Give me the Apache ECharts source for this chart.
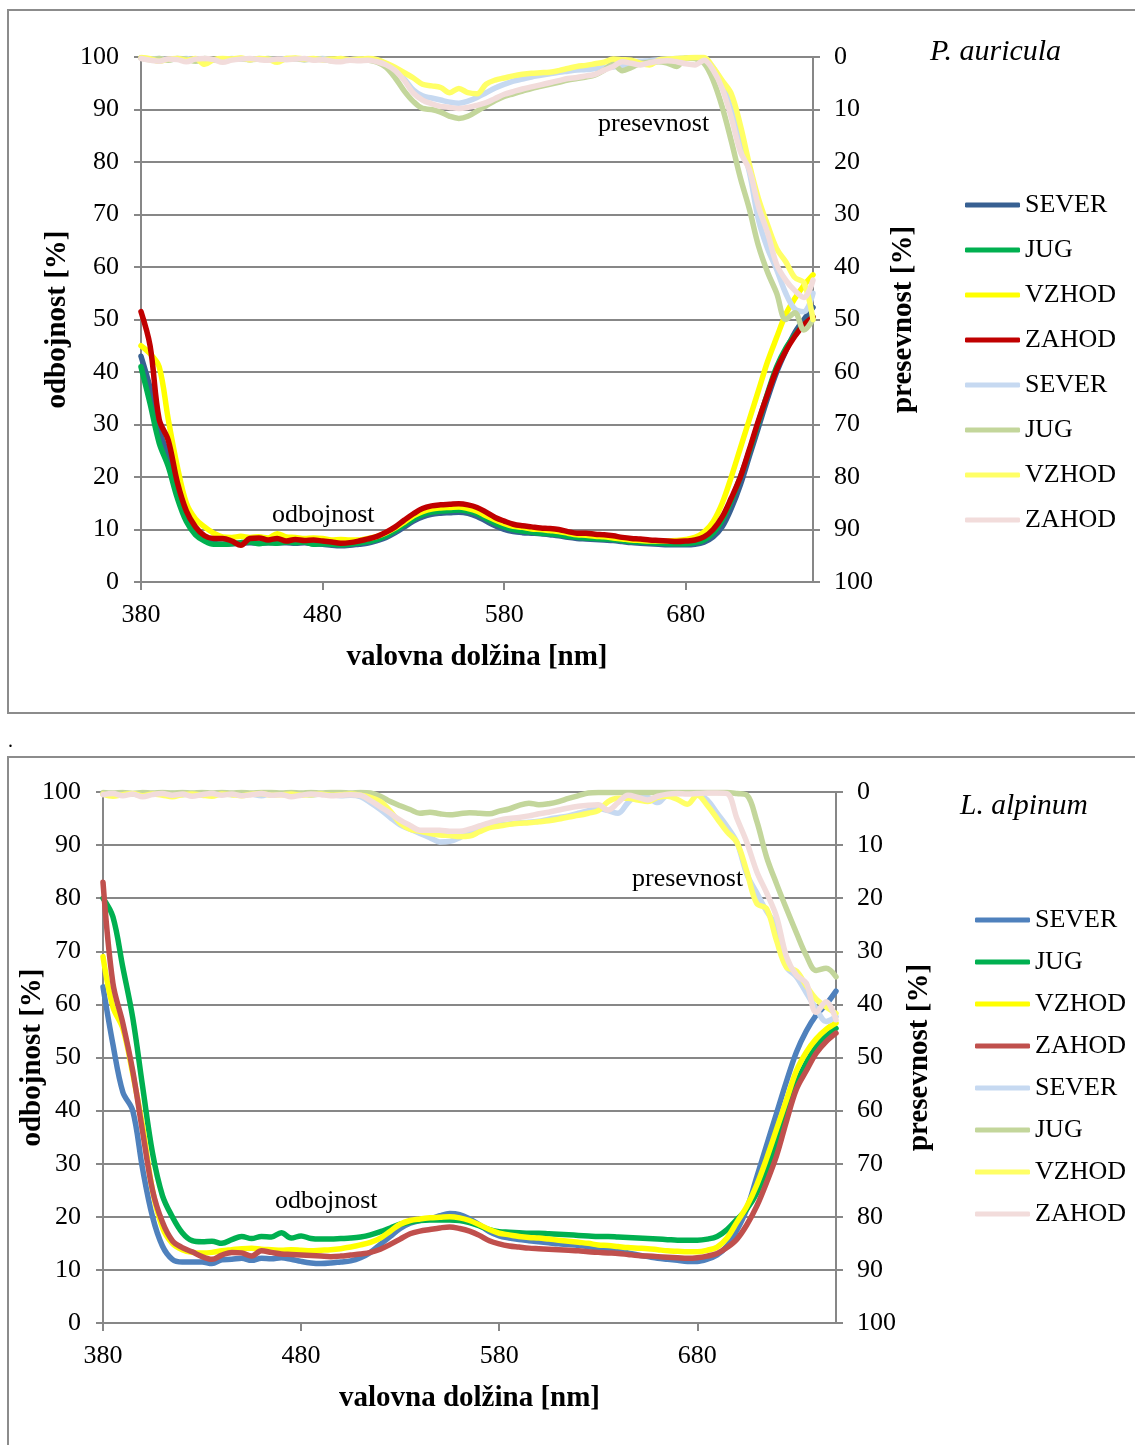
<!DOCTYPE html>
<html>
<head>
<meta charset="utf-8">
<script src="https://cdn.jsdelivr.net/npm/echarts@6/dist/echarts.min.js"></script>
<style>
html,body{margin:0;padding:0;background:#fff;}
#c{position:absolute;left:0;top:0;width:1135px;height:1445px;}
</style>
</head>
<body>
<div id="c"></div>
<script>
// wavelength (nm)
const WL = [380,385,390,395,400,405,410,415,420,425,
430,435,440,445,450,455,460,465,470,475,
480,485,490,495,500,505,510,515,520,525,
530,535,540,545,550,555,560,565,570,575,
580,585,590,595,600,605,610,615,620,625,
630,635,640,645,650,655,660,665,670,675,
680,685,690,695,700,705,710,715,720,725,
730,735,740,745,750];
const X_TICKS = [380,480,580,680];
const SERIES_LABELS = ['SEVER','JUG','VZHOD','ZAHOD'];

// ---- P. auricula: odbojnost [%] (left axis)
const P_SEVER = [43,37,29,24,18,13,9.8,8.2,7.4,7.2,
7.3,7.4,7.5,7.4,7.5,7.5,7.5,7.4,7.5,7.3,
7.2,7.0,6.9,7.0,7.2,7.4,7.9,8.5,9.4,10.5,
11.6,12.4,12.9,13.1,13.2,13.3,13.1,12.5,11.6,10.7,
10.0,9.6,9.4,9.3,9.2,9.0,8.8,8.5,8.3,8.2,
8.1,8.0,7.9,7.7,7.5,7.4,7.3,7.2,7.1,7.1,
7.1,7.2,7.6,8.6,10.5,14.0,18.5,24.0,29.5,35.0,
40.0,44.0,47.5,50.0,52.3];
const P_JUG = [41,34,26.5,22,16,11.5,9,7.8,7.2,7.2,
7.3,7.5,7.6,7.3,7.5,7.4,7.6,7.5,7.6,7.2,
7.3,7.2,7.1,7.2,7.4,7.7,8.1,8.8,9.8,10.9,
12.0,12.8,13.3,13.5,13.6,13.7,13.5,13.0,12.1,11.2,
10.5,10.0,9.7,9.5,9.3,9.2,9.0,8.7,8.5,8.4,
8.3,8.2,8.1,7.9,7.7,7.6,7.5,7.4,7.3,7.3,
7.3,7.5,8.0,9.3,11.8,15.5,20.0,25.0,30.5,36.0,
41.0,44.5,47.0,49.0,50.5];
const P_VZHOD = [45,43.5,41,31,22,15,12.0,10.5,9.3,8.6,
8.5,8.7,8.5,8.6,8.4,9.2,8.6,8.5,8.3,8.4,
8.3,8.0,8.1,8.0,8.0,8.3,8.7,9.4,10.3,11.4,
12.6,13.4,13.9,14.1,14.2,14.3,14.0,13.5,12.6,11.8,
11.1,10.6,10.4,10.1,10.0,9.8,9.6,9.3,9.0,8.9,
8.7,8.6,8.4,8.2,8.0,7.9,7.8,7.8,7.8,7.9,
8.1,8.5,9.5,11.5,15.0,20.0,25.5,31.0,36.5,42.0,
46.6,51.0,54.0,56.5,58.5];
const P_ZAHOD = [51.5,45,31,27,19,13.5,10.5,8.8,8.3,8.3,
7.8,7.0,8.3,8.4,8.0,8.3,7.8,8.1,7.9,8.0,
7.8,7.6,7.4,7.5,7.8,8.2,8.7,9.5,10.5,11.8,
13.0,14.0,14.5,14.7,14.8,14.9,14.7,14.2,13.3,12.3,
11.6,11.0,10.7,10.5,10.3,10.2,10.0,9.6,9.3,9.3,
9.1,9.0,8.8,8.5,8.3,8.2,8.0,7.9,7.8,7.7,
7.8,8.0,8.6,10.0,12.4,16.0,20.0,25.3,30.8,35.8,
40.5,44.0,46.8,49.0,50.5];

// ---- P. auricula: presevnost [%] (right axis, inverted)
const PT_SEVER = [0.2,0.4,0.3,0.5,0.4,0.3,0.5,0.4,0.6,0.5,
0.3,0.4,0.5,0.3,0.4,0.5,0.3,0.4,0.5,0.4,
0.3,0.5,0.6,0.5,0.4,0.5,0.6,1.3,2.5,4.2,
6.3,7.4,7.8,8.2,8.6,8.8,8.4,7.7,6.8,5.9,
5.2,4.6,4.2,3.8,3.5,3.2,2.9,2.7,2.5,2.4,
2.2,2.0,1.9,1.6,1.0,0.8,0.7,0.5,0.4,0.3,
0.2,0.2,0.3,2.0,5.0,10.0,15.5,22.0,31.0,36.5,
40.5,45.0,48.0,48.5,45.0];
const PT_JUG = [0.2,0.5,0.3,0.6,0.3,0.4,0.8,0.3,0.5,0.7,
0.4,0.3,0.5,0.4,0.3,0.6,0.4,0.3,0.5,0.4,
0.5,0.7,0.5,0.6,0.5,0.6,1.0,2.0,4.0,6.5,
8.5,9.8,10.0,10.5,11.3,11.7,11.3,10.3,9.3,8.3,
7.5,7.0,6.5,6.0,5.6,5.2,4.8,4.4,4.1,3.8,
3.4,2.5,1.3,2.6,2.0,1.2,1.0,0.9,1.2,1.8,
0.2,0.3,1.2,4.4,9.5,16.0,23.0,29.0,36.0,41.0,
45.0,50.0,48.7,52.0,50.0];
const PT_VZHOD = [0.1,0.3,0.8,0.4,0.3,0.6,0.3,1.4,0.5,0.3,
0.4,0.2,0.5,0.3,0.4,1.0,0.3,0.2,0.4,0.3,
0.5,0.4,0.3,0.5,0.4,0.3,0.5,1.2,2.0,3.0,
4.0,5.2,5.5,5.8,6.8,6.0,6.8,7.0,5.2,4.4,
4.0,3.6,3.3,3.1,3.0,2.9,2.6,2.2,1.8,1.6,
1.3,1.0,0.4,0.5,0.6,1.2,1.5,0.6,0.4,0.3,
0.2,0.1,0.1,2.0,4.5,7.0,13.0,20.5,27.0,32.0,
36.5,39.0,42.0,43.0,50.0];
const PT_ZAHOD = [0.3,0.6,0.8,0.4,0.5,0.9,0.4,0.3,0.5,1.0,
0.6,0.4,0.3,0.5,0.6,0.4,0.5,0.4,0.3,0.6,
0.5,0.8,0.9,0.6,0.7,0.6,0.9,1.5,2.6,4.5,
6.9,8.2,8.9,9.4,9.6,9.8,9.6,9.2,8.7,7.9,
7.1,6.6,6.1,5.7,5.3,4.9,4.5,4.1,3.9,3.6,
3.3,2.5,1.8,0.9,1.2,1.5,1.1,0.8,0.7,0.9,
1.3,1.5,0.6,2.5,6.0,11.5,18.0,21.5,28.5,33.5,
39.5,42.5,44.5,45.8,42.5];

// ---- L. alpinum: odbojnost [%]
const L_SEVER = [63.3,52.5,43.5,40,29,20,14.5,12,11.5,11.5,
11.5,11.2,11.9,12.0,12.2,11.8,12.2,12.1,12.3,12.0,
11.6,11.3,11.2,11.3,11.5,11.7,12.3,13.3,14.8,16.3,
17.8,18.8,19.3,19.6,20.2,20.6,20.4,19.6,18.5,17.2,
16.4,16.0,15.7,15.5,15.3,15.1,14.9,14.8,14.6,14.4,
14.1,13.8,13.5,13.2,12.8,12.5,12.2,12.0,11.8,11.6,
11.6,12.0,12.8,14.5,17.5,21.5,27.5,33.5,39.5,45.5,
51.0,55.0,58.0,60.0,62.5];
const L_JUG = [80,76.5,67,57.5,44.5,32,24,20,17,15.5,
15.3,15.4,15.0,15.7,16.3,15.9,16.3,16.2,17.0,16.0,
16.4,15.9,15.8,15.8,15.9,16.0,16.2,16.6,17.2,17.9,
18.6,19.0,19.3,19.4,19.4,19.4,19.3,18.9,18.3,17.6,
17.2,17.1,17.0,16.9,16.9,16.8,16.7,16.6,16.5,16.4,
16.3,16.3,16.2,16.1,16.0,15.9,15.8,15.7,15.6,15.6,
15.6,15.8,16.3,17.6,19.5,21.5,24.5,29.0,34.0,39.5,
45.0,49.0,52.0,54.0,55.5];
const L_VZHOD = [69,59.5,55.5,47,37,25,18,15,13.8,13.3,
13.2,13.3,13.6,13.8,14.0,14.1,13.9,13.8,13.7,13.8,
13.7,13.6,13.7,13.8,14.0,14.3,14.7,15.2,16.0,17.3,
18.6,19.3,19.6,19.8,19.9,20.0,19.8,19.3,18.5,17.6,
16.9,16.6,16.3,16.1,16.0,15.8,15.6,15.4,15.2,15.0,
14.7,14.6,14.4,14.2,14.1,14.0,13.8,13.6,13.5,13.4,
13.4,13.7,14.3,16.0,19.0,22.0,26.0,31.0,36.5,42.0,
47.5,51.0,53.5,55.3,56.5];
const L_ZAHOD = [83,64,56.5,47.5,36,25,19,15.5,14.2,13.4,
12.5,12.0,12.8,13.3,13.2,12.6,13.6,13.3,13.0,12.9,
12.8,12.7,12.6,12.5,12.6,12.8,13.0,13.3,13.9,14.8,
15.8,16.8,17.3,17.6,17.9,18.1,17.8,17.3,16.5,15.5,
14.9,14.5,14.3,14.1,14.0,13.9,13.8,13.7,13.6,13.4,
13.3,13.2,13.1,12.9,12.7,12.6,12.5,12.4,12.3,12.2,
12.3,12.6,13.1,14.2,15.8,18.5,22.0,26.5,31.5,38.0,
44.0,47.5,50.8,53.0,54.6];

// ---- L. alpinum: presevnost [%]
const LT_SEVER = [0.3,0.5,0.2,0.4,0.6,0.3,0.4,0.2,0.5,0.3,
0.4,0.6,0.3,0.5,0.2,0.4,0.7,0.3,0.4,0.5,
0.3,0.6,0.4,0.5,0.7,0.6,0.9,2.0,3.3,4.8,
6.2,7.0,7.8,8.6,9.4,9.3,8.6,7.5,6.9,6.5,
6.2,6.0,5.8,5.7,5.5,5.1,4.8,4.5,4.0,3.5,
3.1,3.5,4.0,2.0,0.6,1.0,2.0,0.5,0.3,0.2,
0.3,1.5,4.0,6.5,9.5,15.5,19.0,22.5,25.4,32.9,
34.8,37.8,40.8,43.2,42.3];
const LT_JUG = [0.1,0.2,0.1,0.3,0.1,0.2,0.1,0.2,0.1,0.2,
0.1,0.2,0.1,0.2,0.1,0.2,0.1,0.1,0.2,0.1,
0.2,0.1,0.2,0.1,0.1,0.2,0.1,0.2,0.8,1.8,
2.6,3.3,4.0,3.8,4.1,4.3,4.1,3.9,4.0,4.1,
3.6,3.2,2.5,2.1,2.4,2.2,1.8,1.2,0.7,0.2,
0.1,0.1,0.1,0.1,0.1,0.1,0.1,0.1,0.1,0.1,
0.1,0.1,0.1,0.1,0.3,0.6,5.5,12.3,17.3,22.0,
26.5,30.8,33.6,33.2,34.8];
const LT_VZHOD = [0.4,0.8,0.5,0.3,0.7,0.4,0.6,0.9,0.5,0.4,
0.6,0.8,0.4,0.5,0.7,0.4,0.3,0.6,0.5,0.4,
0.6,0.5,0.4,0.6,0.5,0.4,0.6,1.0,1.8,3.6,
5.9,7.0,7.4,7.8,8.1,8.2,8.4,8.3,7.5,6.7,
6.4,6.1,5.9,5.8,5.6,5.4,5.1,4.7,4.4,4.0,
3.5,1.8,1.2,1.2,1.5,1.8,1.0,0.8,1.4,2.3,
0.6,2.5,5.0,7.5,9.5,15.0,21.0,22.0,28.0,33.0,
33.7,36.5,39.0,40.5,41.7];
const LT_ZAHOD = [0.5,0.3,0.7,0.4,0.9,0.5,0.3,0.6,0.4,0.8,
0.5,0.3,0.6,0.4,0.7,0.5,0.3,0.6,0.5,0.9,
0.6,0.4,0.5,0.7,0.6,0.5,0.6,1.6,2.8,4.0,
5.3,6.3,7.2,7.2,7.2,7.4,7.4,7.0,6.4,5.8,
5.3,5.0,4.8,4.5,4.1,3.8,3.4,3.0,2.7,2.5,
2.4,3.4,2.0,0.6,1.0,1.5,0.8,0.4,0.3,0.4,
0.3,0.2,0.2,0.3,5.0,9.5,15.0,19.0,23.5,31.0,
34.5,36.0,41.5,39.5,42.9];

const FONT = '"Liberation Serif", "Times New Roman", serif';
const GRID_C = '#878787';
const P_COLORS = ['#376092','#00B050','#FFFF00','#C00000'];
const L_COLORS = ['#4F81BD','#00B050','#FFFF00','#C0504D'];
const T_COLORS = ['#C6D9F1','#C3D69B','#FFFF66','#F2DCDB'];

function mkSeries(key, idx, gridIdx, yIdx, arr, color) {
  return {
    name: key + '|' + SERIES_LABELS[idx],
    type: 'line',
    xAxisIndex: gridIdx,
    yAxisIndex: yIdx,
    data: WL.map((w, i) => [w, arr[i]]),
    symbol: 'none',
    showSymbol: false,
    smooth: 0.35,
    lineStyle: {color: color, width: 5.5, cap: 'round', join: 'round'},
    itemStyle: {color: color},
    emphasis: {disabled: true},
    z: 2
  };
}

const series = [];
[P_SEVER,P_JUG,P_VZHOD,P_ZAHOD].forEach((a,i)=>series.push(mkSeries('Po'+i, i, 0, 0, a, P_COLORS[i])));
[PT_SEVER,PT_JUG,PT_VZHOD,PT_ZAHOD].forEach((a,i)=>series.push(mkSeries('Pt'+i, i, 0, 1, a, T_COLORS[i])));
[L_SEVER,L_JUG,L_VZHOD,L_ZAHOD].forEach((a,i)=>series.push(mkSeries('Lo'+i, i, 1, 2, a, L_COLORS[i])));
[LT_SEVER,LT_JUG,LT_VZHOD,LT_ZAHOD].forEach((a,i)=>series.push(mkSeries('Lt'+i, i, 1, 3, a, T_COLORS[i])));

function xAxisCfg(gi) {
  return {
    gridIndex: gi, type: 'value', min: 380, max: 750, interval: 100,
    axisLine: {show: true, lineStyle: {color: GRID_C, width: 2}},
    axisTick: {show: true, length: 8, customValues: X_TICKS, lineStyle: {color: GRID_C, width: 2}},
    axisLabel: {customValues: X_TICKS, fontSize: 26, color: '#000', fontFamily: FONT, margin: 20},
    splitLine: {show: false},
    name: 'valovna dolžina [nm]', nameLocation: 'middle', nameGap: 61, nameMoveOverlap: false,
    nameTextStyle: {fontSize: 29, fontWeight: 'bold', color: '#000', fontFamily: FONT}
  };
}
function yAxisCfg(gi, right, name, gap) {
  return {
    gridIndex: gi, type: 'value', min: 0, max: 100, interval: 10,
    position: right ? 'right' : 'left', inverse: !!right,
    axisLine: {show: true, onZero: false, lineStyle: {color: GRID_C, width: 2}},
    axisTick: {show: true, length: 7, lineStyle: {color: GRID_C, width: 2}},
    axisLabel: {fontSize: 26, color: '#000', fontFamily: FONT, margin: right ? 21 : 22},
    splitLine: {show: !right, lineStyle: {color: GRID_C, width: 2}},
    name: name, nameLocation: 'middle', nameGap: gap, nameMoveOverlap: false,
    nameTextStyle: {fontSize: 29, fontWeight: 'bold', color: '#000', fontFamily: FONT}
  };
}
function legendCfg(prefixO, prefixT, left, top, gap) {
  const data = [];
  for (let i = 0; i < 4; i++) data.push(prefixO + i + '|' + SERIES_LABELS[i]);
  for (let i = 0; i < 4; i++) data.push(prefixT + i + '|' + SERIES_LABELS[i]);
  return {
    data: data, orient: 'vertical', left: left, top: top, padding: 0,
    itemWidth: 55, itemHeight: 5, itemGap: gap, icon: 'roundRect',
    selectedMode: false,
    formatter: n => n.split('|')[1],
    textStyle: {fontSize: 26, lineHeight: 24, color: '#000', fontFamily: FONT}
  };
}
function txt(x, y, s, extra) {
  return {type: 'text', x: x, y: y, silent: true,
    style: Object.assign({text: s, fill: '#000', font: '26px ' + FONT, textVerticalAlign: 'middle'}, extra || {})};
}

const chart = echarts.init(document.getElementById('c'), null, {renderer: 'canvas'});
chart.setOption({
  animation: false,
  backgroundColor: '#fff',
  title: [
    {text: 'P. auricula', left: 930, top: 37, padding: 0,
     textStyle: {fontSize: 30, fontStyle: 'italic', fontWeight: 'normal', color: '#000', fontFamily: FONT}},
    {text: 'L. alpinum', left: 960, top: 791, padding: 0,
     textStyle: {fontSize: 29.5, fontStyle: 'italic', fontWeight: 'normal', color: '#000', fontFamily: FONT}}
  ],
  grid: [
    {left: 141, top: 57, width: 672, height: 525},
    {left: 103, top: 792, width: 733, height: 531}
  ],
  xAxis: [xAxisCfg(0), xAxisCfg(1)],
  yAxis: [
    yAxisCfg(0, false, 'odbojnost [%]', 69),
    yAxisCfg(0, true, 'presevnost [%]', 76),
    yAxisCfg(1, false, 'odbojnost [%]', 56),
    yAxisCfg(1, true, 'presevnost [%]', 69)
  ],
  legend: [
    legendCfg('Po', 'Pt', 965, 192, 19),
    legendCfg('Lo', 'Lt', 975, 907, 16)
  ],
  graphic: [
    {type: 'rect', silent: true, shape: {x: 8, y: 10, width: 1140, height: 703},
     style: {fill: 'none', stroke: '#8c8c8c', lineWidth: 2}},
    {type: 'rect', silent: true, shape: {x: 8, y: 757, width: 1140, height: 700},
     style: {fill: 'none', stroke: '#8c8c8c', lineWidth: 2}},
    txt(8, 742, '.', {font: '20px ' + FONT}),
    txt(598, 124, 'presevnost'),
    txt(272, 515, 'odbojnost'),
    txt(632, 879, 'presevnost'),
    txt(275, 1201, 'odbojnost')
  ],
  series: series
});
</script>
</body>
</html>
